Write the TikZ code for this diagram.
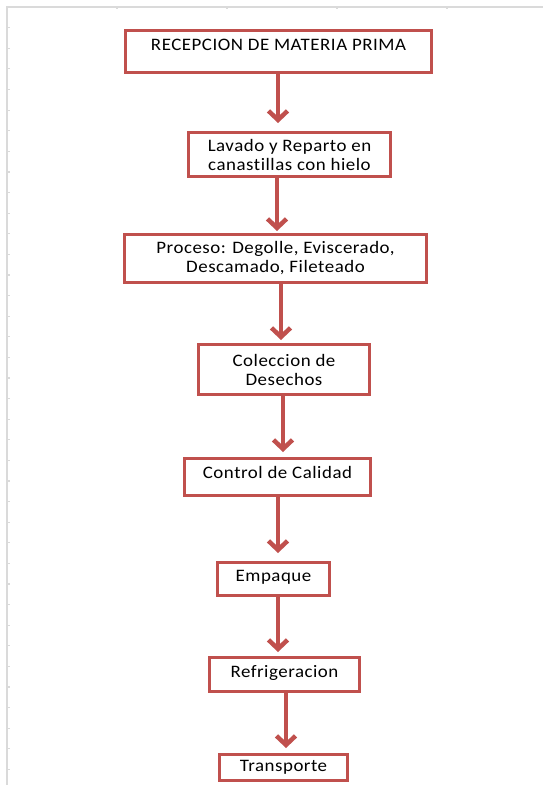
\documentclass[tikz,border=0pt]{standalone}
\usepackage{fontspec}
\setmainfont[FakeStretch=1.08,LetterSpace=3,Ligatures=NoCommon]{Carlito}
\usepackage{tikz}
\usetikzlibrary{arrows.meta,positioning}
\definecolor{boxred}{RGB}{192,80,77}
\definecolor{sheetgrey}{RGB}{218,218,218}

\begin{document}
\begin{tikzpicture}[x=1bp,y=-1bp,
  box/.style={draw=boxred,line width=3bp,fill=white,inner sep=0pt,align=center,
    font=\fontsize{17.5bp}{19bp}\selectfont},
  flow/.style={draw=boxred,line width=4.5bp,-{Straight Barb[length=9bp,width=19bp]}}]
\useasboundingbox (0,0) rectangle (543,785);
% sheet edge
\draw[sheetgrey,line width=1.5bp] (7,785) -- (7,7) -- (543,7);
\foreach \k in {0,...,36}{\draw[sheetgrey,line width=1.2bp] (7,27.7+20.6*\k) -- (9.5,27.7+20.6*\k);}
\foreach \k in {0,...,3}{\draw[sheetgrey,line width=1.2bp] (117+110*\k,7) -- (117+110*\k,9.5);}
% steps
\node[box,minimum width=306bp,minimum height=42bp,text height=12bp,text depth=14bp] (recep) at (278.5,51.5) {RECEPCION DE MATERIA PRIMA};
\node[box,minimum width=202bp,minimum height=44bp] (lavado) at (289.5,154.5) {Lavado y Reparto en\\canastillas con hielo};
\node[box,minimum width=302bp,minimum height=48bp] (proceso) at (275.5,258.5) {Proceso: Degolle, Eviscerado,\\Descamado, Fileteado};
\node[box,minimum width=171bp,minimum height=50bp] (desechos) at (284,369.5) {Coleccion de\\Desechos};
\node[box,minimum width=186bp,minimum height=37bp,text height=12bp,text depth=9bp] (calidad) at (277.5,477) {Control de Calidad};
\node[box,minimum width=112bp,minimum height=33bp,text height=12bp,text depth=7bp] (empaque) at (273.5,579) {Empaque};
\node[box,minimum width=150bp,minimum height=34bp,text height=12bp,text depth=7bp] (refrig) at (284.5,674.5) {Refrigeracion};
\node[box,minimum width=128bp,minimum height=26bp] (transporte) at (283.5,767.5) {Transporte};
% arrows
\foreach \a/\b/\x/\s in {recep/lavado/278/8,lavado/proceso/277/2,proceso/desechos/281/3,
  desechos/calidad/283/5,calidad/empaque/278/8,empaque/refrig/278/4,refrig/transporte/286/5}{
  \draw[flow,shorten >=\s bp] (\a.south -| \x,0) -- (\b.north -| \x,0);}
\end{tikzpicture}
\end{document}
